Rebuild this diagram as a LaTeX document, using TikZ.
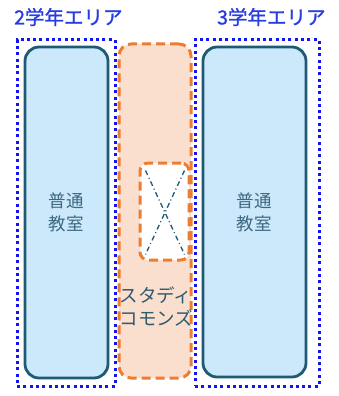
\documentclass[tikz,border=0pt]{standalone}
\usepackage{fontspec}
\newfontfamily\jp{Noto Sans CJK JP}[AutoFakeBold=1.2]
\definecolor{dotblue}{RGB}{20,20,240}
\definecolor{titleblue}{RGB}{40,60,225}
\definecolor{roomfill}{RGB}{204,232,251}
\definecolor{roomline}{RGB}{30,90,115}
\definecolor{roomtext}{RGB}{60,105,130}
\definecolor{orangeline}{RGB}{237,125,49}
\definecolor{orangefill}{RGB}{250,222,206}
\definecolor{commontext}{RGB}{45,90,110}
\begin{document}
\begin{tikzpicture}[x=1pt,y=-1pt,
  area/.style={draw=dotblue,line width=3pt,dash pattern=on 3pt off 3.3pt,rectangle,inner sep=0pt},
  room/.style={draw=roomline,fill=roomfill,line width=2.8pt,rounded corners=14pt,rectangle,inner sep=0pt},
  common/.style={draw=orangeline,fill=orangefill,line width=3pt,dash pattern=on 9pt off 5pt,rounded corners=12pt,rectangle,inner sep=0pt},
  voidbox/.style={draw=orangeline,fill=white,line width=3pt,dash pattern=on 9pt off 5pt,rounded corners=8pt,rectangle,inner sep=0pt},
  roomlabel/.style={font=\jp\fontsize{17.5}{23}\selectfont,text=roomtext,align=center},
  title/.style={font=\jp\bfseries\fontsize{19.5}{22}\selectfont,text=titleblue,anchor=west,inner sep=0pt}]
\useasboundingbox (0,0) rectangle (338,396);
% left room
\node[room,minimum width=83pt,minimum height=331pt] (roomL) at (66.5,212.5) {};
\node[roomlabel] (labL) at (66,212) {普通\\教室};
% right room
\node[room,minimum width=103pt,minimum height=330pt] (roomR) at (254.5,212) {};
\node[roomlabel] (labR) at (254,212) {普通\\教室};
% study commons
\node[common,minimum width=72pt,minimum height=334pt] (commons) at (155,211) {};
\node[voidbox,minimum width=49pt,minimum height=97pt] (void) at (164.5,211.5) {};
\draw[roomline,line width=1.3pt,dash pattern=on 5pt off 3pt on 1pt off 3pt]
  ([shift={(7,9)}]void.north west) -- ([shift={(-6,-7)}]void.south east);
\draw[roomline,line width=1.3pt,dash pattern=on 5pt off 3pt on 1pt off 3pt]
  ([shift={(-6,9)}]void.north east) -- ([shift={(7,-7)}]void.south west);
\node[font=\jp\fontsize{18.5}{23}\selectfont,text=commontext,align=left,inner sep=0pt] (comlab) at (156.5,307) {スタディ\\コモンズ};
% areas
\node[area,minimum width=98pt,minimum height=346pt] (areaL) at (66,213) {};
\node[area,minimum width=124pt,minimum height=346pt] (areaR) at (257,213) {};
\node[title] (t2) at (14,17) {2学年エリア};
\node[title] (t3) at (217,17) {3学年エリア};
\end{tikzpicture}
\end{document}
